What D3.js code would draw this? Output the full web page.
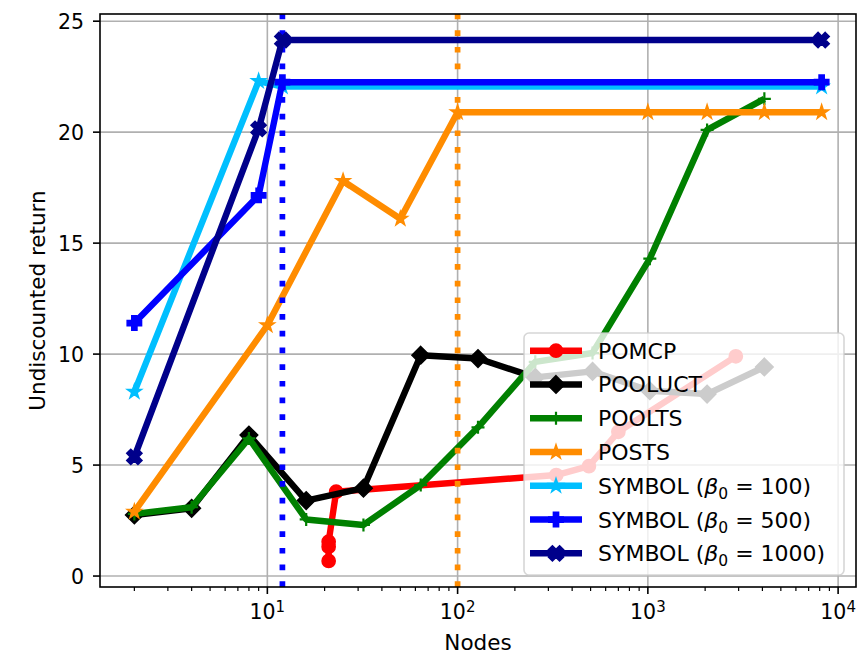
<!DOCTYPE html>
<html><head><meta charset="utf-8">
<script src="https://cdn.jsdelivr.net/npm/d3@7"></script>
<style>body{margin:0;background:#fff}svg{display:block}text{font-family:"DejaVu Sans",sans-serif;fill:#000}</style>
</head><body><svg id="c" width="865" height="657"></svg>
<script>
// ---- data ----
const pomcpX   = [21, 21, 21, 23, 330, 490, 700, 2900];
const pomcpY   = [0.68, 1.32, 1.55, 3.8, 4.55, 4.95, 6.5, 9.9];
const pooluctX = [2, 4, 8, 16, 32, 64, 128, 256, 512, 1024, 2048, 4096];
const pooluctY = [2.75, 3.05, 6.35, 3.4, 3.96, 9.95, 9.8, 8.95, 9.22, 8.35, 8.2, 9.42];
const pooltsX  = [2, 4, 8, 16, 32, 64, 128, 256, 512, 1024, 2048, 4096];
const pooltsY  = [2.8, 3.1, 6.2, 2.55, 2.3, 4.1, 6.7, 9.65, 10.05, 14.3, 20.1, 21.5];
const postsX   = [2, 10, 25, 50, 100, 1000, 2048, 4096, 8192];
const postsY   = [2.9, 11.3, 17.8, 16.1, 20.9, 20.9, 20.9, 20.9, 20.9];
const sym100X  = [2, 9, 12, 8192];
const sym100Y  = [8.3, 22.3, 22.05, 22.05];
const sym500X  = [2, 9, 12, 8192];
const sym500Y  = [11.4, 17.15, 22.25, 22.25];
const sym1000X = [2, 9, 12, 8192];
const sym1000Y = [5.37, 20.15, 24.15, 24.15];
const vlineX   = [12, 100];
const yTicks   = [0, 5, 10, 15, 20, 25];
const xTickExp = [1, 2, 3, 4];
const seriesNames = ["POMCP", "POOLUCT", "POOLTS", "POSTS", "SYMBOL", "SYMBOL", "SYMBOL"];
const betas = [null, null, null, null, 100, 500, 1000];

// ---- layout ----
const svg = d3.select("#c");
const L = 100, R = 856, T = 14, B = 587;

const allX = [].concat(pomcpX, pooluctX, pooltsX, postsX, sym100X, sym500X, sym1000X);
const allY = [].concat(pomcpY, pooluctY, pooltsY, postsY, sym100Y, sym500Y, sym1000Y);
const lx0 = Math.log10(d3.min(allX)), lx1 = Math.log10(d3.max(allX));
const mx = (lx1 - lx0) * 0.05;
const x = d3.scaleLog().domain([Math.pow(10, lx0 - mx), Math.pow(10, lx1 + mx)]).range([L, R]);
const y0 = d3.min(allY), y1 = d3.max(allY), my = (y1 - y0) * 0.05;
const y = d3.scaleLinear().domain([y0 - my, y1 + my]).range([B, T]);

const GRID = "#b0b0b0";
const g = svg.append("g");
xTickExp.forEach(e => {
  g.append("line").attr("x1", x(Math.pow(10, e))).attr("x2", x(Math.pow(10, e)))
    .attr("y1", T).attr("y2", B).attr("stroke", GRID).attr("stroke-width", 1.6);
});
yTicks.forEach(v => {
  g.append("line").attr("x1", L).attr("x2", R).attr("y1", y(v)).attr("y2", y(v))
    .attr("stroke", GRID).attr("stroke-width", 1.6);
});

function markerPath(type) {
  if (type === "o") { const r = 6.6; return `M${r},0A${r},${r} 0 1 1 ${-r},0A${r},${r} 0 1 1 ${r},0Z`; }
  if (type === "D") { const h = 8.8; return `M0,${-h}L${h},0L0,${h}L${-h},0Z`; }
  if (type === "*") {
    const Ro = 7.4, Ri = Ro * 0.382; let p = [];
    for (let i = 0; i < 10; i++) {
      const a = -Math.PI / 2 + i * Math.PI / 5, rr = i % 2 ? Ri : Ro;
      p.push([rr * Math.cos(a), rr * Math.sin(a)]);
    }
    return "M" + p.map(d => d[0].toFixed(2) + "," + d[1].toFixed(2)).join("L") + "Z";
  }
  if (type === "+") { const s = 6.5; return `M${-s},0H${s}M0,${-s}V${s}`; }
  if (type === "P" || type === "X") {
    const s = 7.2, a = 2.6;
    let p = [[-a,-s],[a,-s],[a,-a],[s,-a],[s,a],[a,a],[a,s],[-a,s],[-a,a],[-s,a],[-s,-a],[-a,-a]];
    if (type === "X") {
      const c = Math.SQRT1_2, k = 1.1;
      p = p.map(([u, v]) => [k * (u * c - v * c), k * (u * c + v * c)]);
    }
    return "M" + p.map(d => d[0].toFixed(2) + "," + d[1].toFixed(2)).join("L") + "Z";
  }
}

const series = [
  {xs: pomcpX,   ys: pomcpY,   color: "#ff0000", m: "o"},
  {xs: pooluctX, ys: pooluctY, color: "#000000", m: "D"},
  {xs: pooltsX,  ys: pooltsY,  color: "#008000", m: "+"},
  {xs: postsX,   ys: postsY,   color: "#ff8c00", m: "*"},
  {xs: sym100X,  ys: sym100Y,  color: "#00bfff", m: "*"},
  {xs: sym500X,  ys: sym500Y,  color: "#0000ff", m: "P"},
  {xs: sym1000X, ys: sym1000Y, color: "#00008b", m: "X"},
];
const vColors = ["#0000ff", "#ff8c00"];

svg.append("defs").append("clipPath").attr("id", "clip")
  .append("rect").attr("x", L).attr("y", T).attr("width", R - L).attr("height", B - T);
const plot = svg.append("g").attr("clip-path", "url(#clip)");

const line = d3.line().x(d => x(d[0])).y(d => y(d[1]));
function drawMarker(sel, type, color, cx, cy) {
  const p = sel.append("path").attr("d", markerPath(type))
    .attr("transform", `translate(${cx},${cy})`);
  if (type === "+") p.attr("fill", "none").attr("stroke", color).attr("stroke-width", 2.2);
  else p.attr("fill", color).attr("stroke", color).attr("stroke-width", 1.5).attr("stroke-linejoin", "miter");
}
function drawSeries(s) {
  const pts = s.xs.map((v, i) => [v, s.ys[i]]);
  plot.append("path").attr("d", line(pts)).attr("fill", "none")
    .attr("stroke", s.color).attr("stroke-width", 6.4).attr("stroke-linejoin", "round").attr("stroke-linecap", "butt");
  pts.forEach(d => drawMarker(plot, s.m, s.color, x(d[0]), y(d[1])));
}
series.slice(0, 4).forEach(drawSeries);
vlineX.forEach((v, i) => {
  plot.append("line").attr("x1", x(v)).attr("x2", x(v)).attr("y1", B).attr("y2", T)
    .attr("stroke", vColors[i]).attr("stroke-width", 5.7).attr("stroke-dasharray", "5.7,11");
});
series.slice(4).forEach(drawSeries);

const ax = svg.append("g");
ax.append("rect").attr("x", L).attr("y", T).attr("width", R - L).attr("height", B - T)
  .attr("fill", "none").attr("stroke", "#000").attr("stroke-width", 1.6);

yTicks.forEach(v => {
  ax.append("line").attr("x1", L - 7).attr("x2", L).attr("y1", y(v)).attr("y2", y(v))
    .attr("stroke", "#000").attr("stroke-width", 1.6);
  ax.append("text").attr("x", L - 16).attr("y", y(v) + 7.5).attr("text-anchor", "end")
    .attr("font-size", 20.5).text(v);
});
const [dx0, dx1] = x.domain();
for (let e = Math.floor(Math.log10(dx0)); e <= Math.ceil(Math.log10(dx1)); e++) {
  for (let k = 1; k <= 9; k++) {
    const v = k * Math.pow(10, e);
    if (v < dx0 || v > dx1) continue;
    const major = k === 1;
    ax.append("line").attr("x1", x(v)).attr("x2", x(v)).attr("y1", B).attr("y2", B + (major ? 7 : 4))
      .attr("stroke", "#000").attr("stroke-width", major ? 1.6 : 1.2);
  }
}
xTickExp.forEach(e => {
  const t = ax.append("text").attr("x", x(Math.pow(10, e))).attr("y", 619)
    .attr("text-anchor", "middle").attr("font-size", 20.5);
  t.append("tspan").text("10");
  t.append("tspan").attr("font-size", 15).attr("dy", -7).text(e);
});
ax.append("text").attr("x", (L + R) / 2).attr("y", 650).attr("text-anchor", "middle")
  .attr("font-size", 21.5).text("Nodes");
ax.append("text").attr("transform", `translate(45,${(T + B) / 2}) rotate(-90)`)
  .attr("text-anchor", "middle").attr("font-size", 21.5).text("Undiscounted return");

const lg = svg.append("g");
lg.append("rect").attr("x", 524).attr("y", 333).attr("width", 320).attr("height", 242).attr("rx", 5)
  .attr("fill", "#fff").attr("fill-opacity", 0.8).attr("stroke", "#cccccc").attr("stroke-opacity", 0.8)
  .attr("stroke-width", 1.6);
series.forEach((s, i) => {
  const cy = 350.7 + i * 33.77;
  lg.append("line").attr("x1", 530).attr("x2", 582).attr("y1", cy).attr("y2", cy)
    .attr("stroke", s.color).attr("stroke-width", 6.4);
  drawMarker(lg, s.m, s.color, 556, cy);
  const t = lg.append("text").attr("x", 598).attr("y", cy + 8).attr("font-size", 22);
  if (betas[i] === null) t.text(seriesNames[i]);
  else {
    t.append("tspan").text(seriesNames[i] + " (");
    t.append("tspan").attr("font-style", "italic").text("β");
    t.append("tspan").attr("font-size", 15.5).attr("dy", 5).text("0");
    t.append("tspan").attr("dy", -5).text(" = " + betas[i] + ")");
  }
});
</script></body></html>
